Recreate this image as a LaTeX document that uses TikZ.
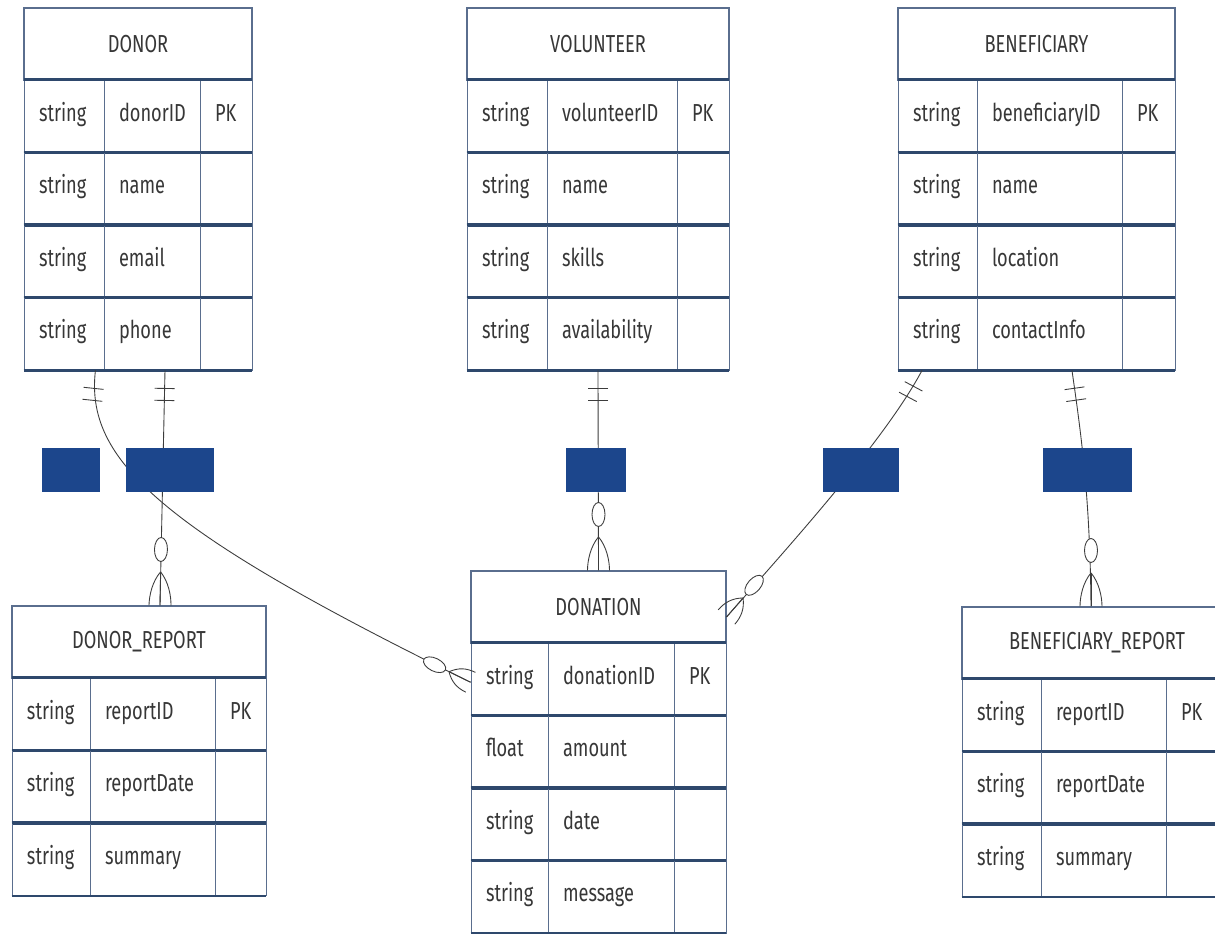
\documentclass[tikz,border=0pt]{standalone}
\usepackage{fontspec}
\setmainfont{Fira Sans}[FakeStretch=0.74]
\usetikzlibrary{positioning}

\definecolor{tblline}{RGB}{46,72,108}
\definecolor{cellline}{RGB}{90,110,142}
\definecolor{relblue}{RGB}{28,70,140}
\definecolor{txt}{RGB}{55,55,55}
\definecolor{conncol}{RGB}{60,60,60}

% entity table: id, left, col1, col2, right, top, title, rows
\newcommand{\ertable}[8]{%
  \pgfmathsetlengthmacro{\hdw}{(#5-#2)*0.02cm}%
  \pgfmathsetlengthmacro{\twa}{(#3-#2-30)*0.02cm}%
  \pgfmathsetlengthmacro{\twb}{(#4-#3-30)*0.02cm}%
  \pgfmathsetlengthmacro{\twc}{(#5-#4-30)*0.02cm}%
  \node[hdr, minimum width=\hdw] (#1) at ({(#2+#5)/2},{#6+36}) {#7};
  \foreach \ty/\nm/\ky [count=\i] in {#8} {%
    \pgfmathsetmacro{\yc}{#6+72+(\i-0.5)*72.5}
    \node[cell, text width=\twa] (#1-t\i) at ({(#2+#3)/2},\yc) {\ty};
    \node[cell, text width=\twb] (#1-n\i) at ({(#3+#4)/2},\yc) {\nm};
    \node[cell, text width=\twc] (#1-k\i) at ({(#4+#5)/2},\yc) {\ky};
    \draw[rowline] (#1-t\i.north west) -- (#1-k\i.north east)
                   (#1-t\i.south west) -- (#1-k\i.south east);
  }%
}

\begin{document}
\begin{tikzpicture}[x=0.02cm, y=-0.02cm,
  font=\fontsize{14}{16}\selectfont,
  hdr/.style={draw=cellline, line width=0.6pt, text=txt, inner sep=0pt, minimum height=1.44cm},
  cell/.style={draw=cellline, line width=0.5pt, text=txt, inner xsep=0.3cm, inner ysep=0pt,
    minimum height=1.45cm, align=left, text height=1.6ex, text depth=0.5ex},
  rowline/.style={draw=tblline, line width=1.3pt},
  conn/.style={draw=conncol, line width=0.5pt},
  relbox/.style={fill=relblue, minimum height=0.88cm, inner sep=0pt},
  pics/onemark/.style={code={
    \draw[conn] (18,-10) -- (18,10) (30,-10) -- (30,10);}},
  pics/zeromany/.style={code={
    \draw[conn] (0,0) -- ({0.6*#1},0);
    \draw[conn] (0,-11) .. controls (10,-11) and ({0.43*#1},-8) .. ({0.6*#1},0);
    \draw[conn] (0,11) .. controls (10,11) and ({0.43*#1},8) .. ({0.6*#1},0);
    \draw[conn, fill=white] (#1,0) ellipse [x radius=12, y radius=6.5];}}]

\path[use as bounding box, fill=white] (0,0) rectangle (1215,934);
\clip (0,0) rectangle (1215,934);

% Entities
\ertable{donor}{24}{104}{200}{252}{8}{DONOR}{string/donorID/PK, string/name/{}, string/email/{}, string/phone/{}}
\ertable{volunteer}{467}{547}{677}{729}{8}{VOLUNTEER}{string/volunteerID/PK, string/name/{}, string/skills/{}, string/availability/{}}
\ertable{beneficiary}{898}{977}{1122}{1175}{8}{BENEFICIARY}{string/beneficiaryID/PK, string/name/{}, string/location/{}, string/contactInfo/{}}
\ertable{drep}{12}{90}{215}{266}{606}{DONOR\_REPORT}{string/reportID/PK, string/reportDate/{}, string/summary/{}}
\ertable{donation}{471}{548}{674}{726}{571}{DONATION}{string/donationID/PK, float/amount/{}, string/date/{}, string/message/{}}
\ertable{brep}{962}{1041}{1166}{1232}{607}{BENEFICIARY\_REPORT}{string/reportID/PK, string/reportDate/{}, string/summary/{}}

% Connector ends
\coordinate (c1s) at ([xshift=-0.18cm]donor-t4.south east);
\coordinate (c1e) at ([yshift=-0.06cm]donation-t1.west);
\coordinate (c2s) at ([xshift=0.26cm]donor-n4.south);
\coordinate (c2e) at ([xshift=0.42cm]drep.north);
\coordinate (c3s) at (volunteer-n4.south -| volunteer.south);
\coordinate (c3e) at (donation.north);
\coordinate (c4s) at ([xshift=-0.31cm]beneficiary-t4.south);
\coordinate (c4e) at ([yshift=-0.2cm]donation.east);
\coordinate (c5s) at ([xshift=0.45cm]beneficiary-n4.south);
\coordinate (c5e) at ([xshift=-0.12cm]brep.north);

% Relationships
\draw[conn] (c1s) .. controls (85,460) and (160,530) .. (c1e);
\draw[conn] (c2s) -- (c2e);
\draw[conn] (c3s) -- (c3e);
\draw[conn] (c4s) .. controls (885,440) and (790,545) .. (c4e);
\draw[conn] (c5s) .. controls (1082,440) and (1090,500) .. (c5e);

% Cardinalities
\pic[rotate=264] at (c1s) {onemark};
\pic[rotate=154] at (c1e) {zeromany=40};
\pic[rotate=269] at (c2s) {onemark};
\pic[rotate=89] at (c2e) {zeromany=56};
\pic[rotate=270] at (c3s) {onemark};
\pic[rotate=90] at (c3e) {zeromany=56};
\pic[rotate=242] at (c4s) {onemark};
\pic[rotate=49] at (c4e) {zeromany=42};
\pic[rotate=278] at (c5s) {onemark};
\pic[rotate=90] at (c5e) {zeromany=56};

% Relationship labels
\node[relbox, minimum width=1.16cm] (rel1) at (71,470) {};
\node[relbox, minimum width=1.76cm] (rel2) at (170,470) {};
\node[relbox, minimum width=1.2cm] (rel3) at (596,470) {};
\node[relbox, minimum width=1.52cm] (rel4) at (861,470) {};
\node[relbox, minimum width=1.78cm] (rel5) at (1087.5,470) {};
\end{tikzpicture}
\end{document}
